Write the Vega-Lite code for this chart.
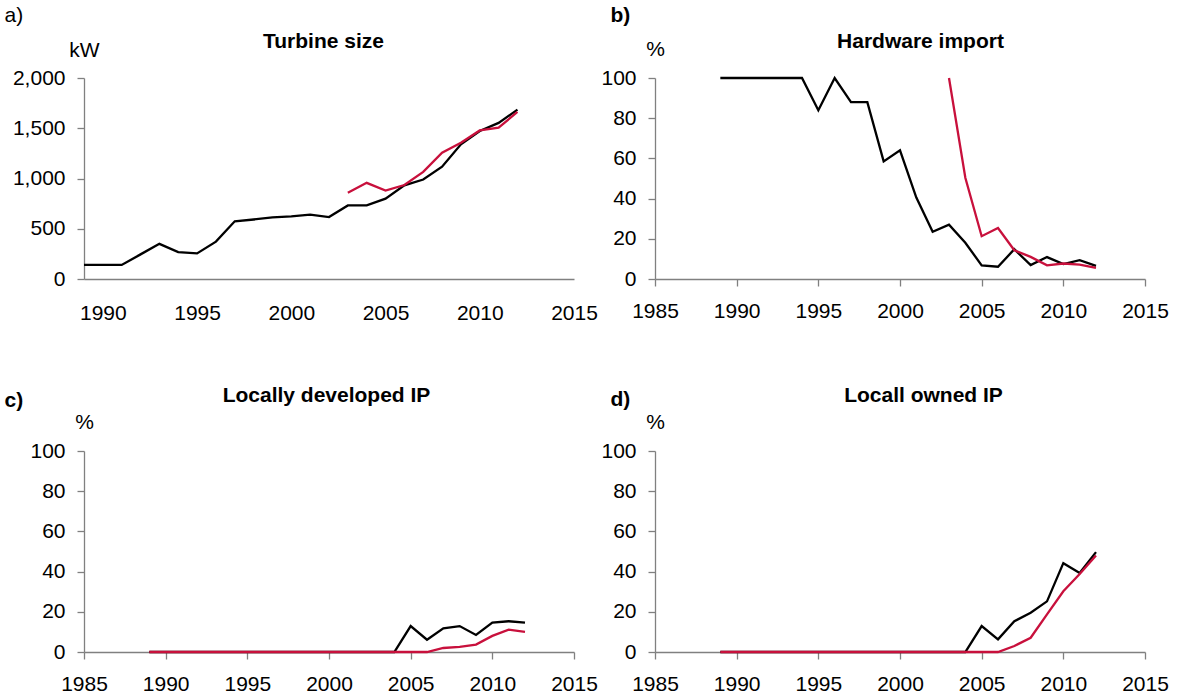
{
"$schema": "https://vega.github.io/schema/vega-lite/v6.json",
"padding": {"left": 4, "top": 4, "right": 5, "bottom": 5},
"bounds": "flush",
"columns": 2,
"spacing": {"row": 172, "column": 81},
"config": {
  "font": "Liberation Sans",
  "view": {"stroke": null},
  "axis": {"labelFontSize": 21, "titleFontSize": 21, "labelColor": "black", "titleColor": "black", "domainColor": "#808080", "tickColor": "#808080", "domainWidth": 1.3, "tickWidth": 1.3, "grid": false, "labelFlush": false, "labelOverlap": false, "labelBound": false, "titleAngle": 0, "titleAlign": "left", "titleBaseline": "alphabetic"},
  "axisY": {"tickSize": 7, "labelPadding": 12},
  "axisX": {"tickSize": 7, "labelPadding": 14.4}
},
"data": {"values": [
{"panel":"a","series":"k","year":1989,"value":140},{"panel":"a","series":"k","year":1990,"value":140},{"panel":"a","series":"k","year":1991,"value":140},{"panel":"a","series":"k","year":1992,"value":245},{"panel":"a","series":"k","year":1993,"value":350},{"panel":"a","series":"k","year":1994,"value":268},{"panel":"a","series":"k","year":1995,"value":255},{"panel":"a","series":"k","year":1996,"value":372},{"panel":"a","series":"k","year":1997,"value":574},{"panel":"a","series":"k","year":1998,"value":592},{"panel":"a","series":"k","year":1999,"value":613},{"panel":"a","series":"k","year":2000,"value":623},{"panel":"a","series":"k","year":2001,"value":640},{"panel":"a","series":"k","year":2002,"value":616},{"panel":"a","series":"k","year":2003,"value":732},{"panel":"a","series":"k","year":2004,"value":732},{"panel":"a","series":"k","year":2005,"value":799},{"panel":"a","series":"k","year":2006,"value":932},{"panel":"a","series":"k","year":2007,"value":990},{"panel":"a","series":"k","year":2008,"value":1118},{"panel":"a","series":"k","year":2009,"value":1340},{"panel":"a","series":"k","year":2010,"value":1473},{"panel":"a","series":"k","year":2011,"value":1553},{"panel":"a","series":"k","year":2012,"value":1685},
{"panel":"a","series":"r","year":2003,"value":858},{"panel":"a","series":"r","year":2004,"value":957},{"panel":"a","series":"r","year":2005,"value":880},{"panel":"a","series":"r","year":2006,"value":935},{"panel":"a","series":"r","year":2007,"value":1066},{"panel":"a","series":"r","year":2008,"value":1257},{"panel":"a","series":"r","year":2009,"value":1355},{"panel":"a","series":"r","year":2010,"value":1478},{"panel":"a","series":"r","year":2011,"value":1505},{"panel":"a","series":"r","year":2012,"value":1663},
{"panel":"b","series":"k","year":1989,"value":100},{"panel":"b","series":"k","year":1990,"value":100},{"panel":"b","series":"k","year":1991,"value":100},{"panel":"b","series":"k","year":1992,"value":100},{"panel":"b","series":"k","year":1993,"value":100},{"panel":"b","series":"k","year":1994,"value":100},{"panel":"b","series":"k","year":1995,"value":84},{"panel":"b","series":"k","year":1996,"value":100},{"panel":"b","series":"k","year":1997,"value":88},{"panel":"b","series":"k","year":1998,"value":88},{"panel":"b","series":"k","year":1999,"value":58.5},{"panel":"b","series":"k","year":2000,"value":64},{"panel":"b","series":"k","year":2001,"value":40.5},{"panel":"b","series":"k","year":2002,"value":23.5},{"panel":"b","series":"k","year":2003,"value":27},{"panel":"b","series":"k","year":2004,"value":18},{"panel":"b","series":"k","year":2005,"value":6.8},{"panel":"b","series":"k","year":2006,"value":6.1},{"panel":"b","series":"k","year":2007,"value":14.8},{"panel":"b","series":"k","year":2008,"value":6.9},{"panel":"b","series":"k","year":2009,"value":10.9},{"panel":"b","series":"k","year":2010,"value":7.4},{"panel":"b","series":"k","year":2011,"value":9.4},{"panel":"b","series":"k","year":2012,"value":6.5},
{"panel":"b","series":"r","year":2003,"value":100},{"panel":"b","series":"r","year":2004,"value":50.4},{"panel":"b","series":"r","year":2005,"value":21.3},{"panel":"b","series":"r","year":2006,"value":25.4},{"panel":"b","series":"r","year":2007,"value":14.3},{"panel":"b","series":"r","year":2008,"value":11},{"panel":"b","series":"r","year":2009,"value":6.8},{"panel":"b","series":"r","year":2010,"value":7.7},{"panel":"b","series":"r","year":2011,"value":7.2},{"panel":"b","series":"r","year":2012,"value":5.5},
{"panel":"c","series":"k","year":1989,"value":0},{"panel":"c","series":"k","year":1990,"value":0},{"panel":"c","series":"k","year":1991,"value":0},{"panel":"c","series":"k","year":1992,"value":0},{"panel":"c","series":"k","year":1993,"value":0},{"panel":"c","series":"k","year":1994,"value":0},{"panel":"c","series":"k","year":1995,"value":0},{"panel":"c","series":"k","year":1996,"value":0},{"panel":"c","series":"k","year":1997,"value":0},{"panel":"c","series":"k","year":1998,"value":0},{"panel":"c","series":"k","year":1999,"value":0},{"panel":"c","series":"k","year":2000,"value":0},{"panel":"c","series":"k","year":2001,"value":0},{"panel":"c","series":"k","year":2002,"value":0},{"panel":"c","series":"k","year":2003,"value":0},{"panel":"c","series":"k","year":2004,"value":0},{"panel":"c","series":"k","year":2005,"value":12.9},{"panel":"c","series":"k","year":2006,"value":6.1},{"panel":"c","series":"k","year":2007,"value":11.8},{"panel":"c","series":"k","year":2008,"value":12.9},{"panel":"c","series":"k","year":2009,"value":8.5},{"panel":"c","series":"k","year":2010,"value":14.6},{"panel":"c","series":"k","year":2011,"value":15.3},{"panel":"c","series":"k","year":2012,"value":14.6},
{"panel":"c","series":"r","year":1989,"value":0},{"panel":"c","series":"r","year":1990,"value":0},{"panel":"c","series":"r","year":1991,"value":0},{"panel":"c","series":"r","year":1992,"value":0},{"panel":"c","series":"r","year":1993,"value":0},{"panel":"c","series":"r","year":1994,"value":0},{"panel":"c","series":"r","year":1995,"value":0},{"panel":"c","series":"r","year":1996,"value":0},{"panel":"c","series":"r","year":1997,"value":0},{"panel":"c","series":"r","year":1998,"value":0},{"panel":"c","series":"r","year":1999,"value":0},{"panel":"c","series":"r","year":2000,"value":0},{"panel":"c","series":"r","year":2001,"value":0},{"panel":"c","series":"r","year":2002,"value":0},{"panel":"c","series":"r","year":2003,"value":0},{"panel":"c","series":"r","year":2004,"value":0},{"panel":"c","series":"r","year":2005,"value":0},{"panel":"c","series":"r","year":2006,"value":0},{"panel":"c","series":"r","year":2007,"value":2},{"panel":"c","series":"r","year":2008,"value":2.6},{"panel":"c","series":"r","year":2009,"value":3.7},{"panel":"c","series":"r","year":2010,"value":8},{"panel":"c","series":"r","year":2011,"value":11.1},{"panel":"c","series":"r","year":2012,"value":10},
{"panel":"d","series":"k","year":1989,"value":0},{"panel":"d","series":"k","year":1990,"value":0},{"panel":"d","series":"k","year":1991,"value":0},{"panel":"d","series":"k","year":1992,"value":0},{"panel":"d","series":"k","year":1993,"value":0},{"panel":"d","series":"k","year":1994,"value":0},{"panel":"d","series":"k","year":1995,"value":0},{"panel":"d","series":"k","year":1996,"value":0},{"panel":"d","series":"k","year":1997,"value":0},{"panel":"d","series":"k","year":1998,"value":0},{"panel":"d","series":"k","year":1999,"value":0},{"panel":"d","series":"k","year":2000,"value":0},{"panel":"d","series":"k","year":2001,"value":0},{"panel":"d","series":"k","year":2002,"value":0},{"panel":"d","series":"k","year":2003,"value":0},{"panel":"d","series":"k","year":2004,"value":0},{"panel":"d","series":"k","year":2005,"value":12.9},{"panel":"d","series":"k","year":2006,"value":6.3},{"panel":"d","series":"k","year":2007,"value":15.3},{"panel":"d","series":"k","year":2008,"value":19.5},{"panel":"d","series":"k","year":2009,"value":25.2},{"panel":"d","series":"k","year":2010,"value":44.2},{"panel":"d","series":"k","year":2011,"value":39.3},{"panel":"d","series":"k","year":2012,"value":49.7},
{"panel":"d","series":"r","year":1989,"value":0},{"panel":"d","series":"r","year":1990,"value":0},{"panel":"d","series":"r","year":1991,"value":0},{"panel":"d","series":"r","year":1992,"value":0},{"panel":"d","series":"r","year":1993,"value":0},{"panel":"d","series":"r","year":1994,"value":0},{"panel":"d","series":"r","year":1995,"value":0},{"panel":"d","series":"r","year":1996,"value":0},{"panel":"d","series":"r","year":1997,"value":0},{"panel":"d","series":"r","year":1998,"value":0},{"panel":"d","series":"r","year":1999,"value":0},{"panel":"d","series":"r","year":2000,"value":0},{"panel":"d","series":"r","year":2001,"value":0},{"panel":"d","series":"r","year":2002,"value":0},{"panel":"d","series":"r","year":2003,"value":0},{"panel":"d","series":"r","year":2004,"value":0},{"panel":"d","series":"r","year":2005,"value":0},{"panel":"d","series":"r","year":2006,"value":0},{"panel":"d","series":"r","year":2007,"value":3},{"panel":"d","series":"r","year":2008,"value":7.1},{"panel":"d","series":"r","year":2009,"value":18.7},{"panel":"d","series":"r","year":2010,"value":30.2},{"panel":"d","series":"r","year":2011,"value":38.8},{"panel":"d","series":"r","year":2012,"value":48}
]},
"concat": [
{
  "width": 490, "height": 201,
  "transform": [{"filter": "datum.panel === 'a'"}],
  "encoding": {"y": {"field": "value", "type": "quantitative", "scale": {"domain": [0, 2000], "nice": false}, "axis": {"values": [0, 500, 1000, 1500, 2000], "format": ",.0f", "title": "kW", "titleX": 0, "titleY": -22, "titleAlign": "center", "titleFontWeight": "normal"}}},
  "layer": [
    {"transform": [{"filter": "datum.series === 'k'"}], "mark": {"type": "line", "color": "#000000", "strokeWidth": 2.3},
     "encoding": {"x": {"field": "year", "type": "quantitative", "scale": {"domain": [1989, 2015], "nice": false, "zero": false}, "axis": {"orient": "bottom", "values": [1990, 1995, 2000, 2005, 2010, 2015], "format": "d", "ticks": false, "tickSize": 0, "labelPadding": 23.7, "title": "a)", "titleX": -80, "titleY": -257.4, "titleFontWeight": "normal"}}}},
    {"transform": [{"filter": "datum.series === 'r'"}], "mark": {"type": "line", "color": "#C8103C", "strokeWidth": 2.3},
     "encoding": {"x": {"field": "year", "type": "quantitative", "scale": {"domain": [1989, 2015], "nice": false, "zero": false}, "axis": {"orient": "top", "domain": false, "ticks": false, "labels": false, "title": "Turbine size", "titleX": 239, "titleY": -30.3, "titleAlign": "center", "titleFontWeight": "bold"}}}}
  ],
  "resolve": {"axis": {"x": "independent"}}
},
{
  "width": 490, "height": 201,
  "transform": [{"filter": "datum.panel === 'b'"}],
  "encoding": {"y": {"field": "value", "type": "quantitative", "scale": {"domain": [0, 100], "nice": false}, "axis": {"values": [0, 20, 40, 60, 80, 100], "format": "d", "title": "%", "titleX": 0, "titleY": -23, "titleAlign": "center", "titleFontWeight": "normal"}}},
  "layer": [
    {"transform": [{"filter": "datum.series === 'k'"}], "mark": {"type": "line", "color": "#000000", "strokeWidth": 2.3},
     "encoding": {"x": {"field": "year", "type": "quantitative", "scale": {"domain": [1985, 2015], "nice": false, "zero": false}, "axis": {"orient": "bottom", "values": [1985, 1990, 1995, 2000, 2005, 2010, 2015], "format": "d", "title": "b)", "titleX": -45, "titleY": -257.4, "titleFontWeight": "bold"}}}},
    {"transform": [{"filter": "datum.series === 'r'"}], "mark": {"type": "line", "color": "#C8103C", "strokeWidth": 2.3},
     "encoding": {"x": {"field": "year", "type": "quantitative", "scale": {"domain": [1985, 2015], "nice": false, "zero": false}, "axis": {"orient": "top", "domain": false, "ticks": false, "labels": false, "title": "Hardware import", "titleX": 265, "titleY": -30.3, "titleAlign": "center", "titleFontWeight": "bold"}}}}
  ],
  "resolve": {"axis": {"x": "independent"}}
},
{
  "width": 490, "height": 201,
  "transform": [{"filter": "datum.panel === 'c'"}],
  "encoding": {"y": {"field": "value", "type": "quantitative", "scale": {"domain": [0, 100], "nice": false}, "axis": {"values": [0, 20, 40, 60, 80, 100], "format": "d", "title": "%", "titleX": 0, "titleY": -23, "titleAlign": "center", "titleFontWeight": "normal"}}},
  "layer": [
    {"transform": [{"filter": "datum.series === 'k'"}], "mark": {"type": "line", "color": "#000000", "strokeWidth": 2.3},
     "encoding": {"x": {"field": "year", "type": "quantitative", "scale": {"domain": [1985, 2015], "nice": false, "zero": false}, "axis": {"orient": "bottom", "values": [1985, 1990, 1995, 2000, 2005, 2010, 2015], "format": "d", "title": "c)", "titleX": -80, "titleY": -245.4, "titleFontWeight": "bold"}}}},
    {"transform": [{"filter": "datum.series === 'r'"}], "mark": {"type": "line", "color": "#C8103C", "strokeWidth": 2.3},
     "encoding": {"x": {"field": "year", "type": "quantitative", "scale": {"domain": [1985, 2015], "nice": false, "zero": false}, "axis": {"orient": "top", "domain": false, "ticks": false, "labels": false, "title": "Locally developed IP", "titleX": 242, "titleY": -50, "titleAlign": "center", "titleFontWeight": "bold"}}}}
  ],
  "resolve": {"axis": {"x": "independent"}}
},
{
  "width": 490, "height": 201,
  "transform": [{"filter": "datum.panel === 'd'"}],
  "encoding": {"y": {"field": "value", "type": "quantitative", "scale": {"domain": [0, 100], "nice": false}, "axis": {"values": [0, 20, 40, 60, 80, 100], "format": "d", "title": "%", "titleX": 0, "titleY": -23, "titleAlign": "center", "titleFontWeight": "normal"}}},
  "layer": [
    {"transform": [{"filter": "datum.series === 'k'"}], "mark": {"type": "line", "color": "#000000", "strokeWidth": 2.3},
     "encoding": {"x": {"field": "year", "type": "quantitative", "scale": {"domain": [1985, 2015], "nice": false, "zero": false}, "axis": {"orient": "bottom", "values": [1985, 1990, 1995, 2000, 2005, 2010, 2015], "format": "d", "title": "d)", "titleX": -45, "titleY": -247, "titleFontWeight": "bold"}}}},
    {"transform": [{"filter": "datum.series === 'r'"}], "mark": {"type": "line", "color": "#C8103C", "strokeWidth": 2.3},
     "encoding": {"x": {"field": "year", "type": "quantitative", "scale": {"domain": [1985, 2015], "nice": false, "zero": false}, "axis": {"orient": "top", "domain": false, "ticks": false, "labels": false, "title": "Locall owned IP", "titleX": 268, "titleY": -50, "titleAlign": "center", "titleFontWeight": "bold"}}}}
  ],
  "resolve": {"axis": {"x": "independent"}}
}
]
}
